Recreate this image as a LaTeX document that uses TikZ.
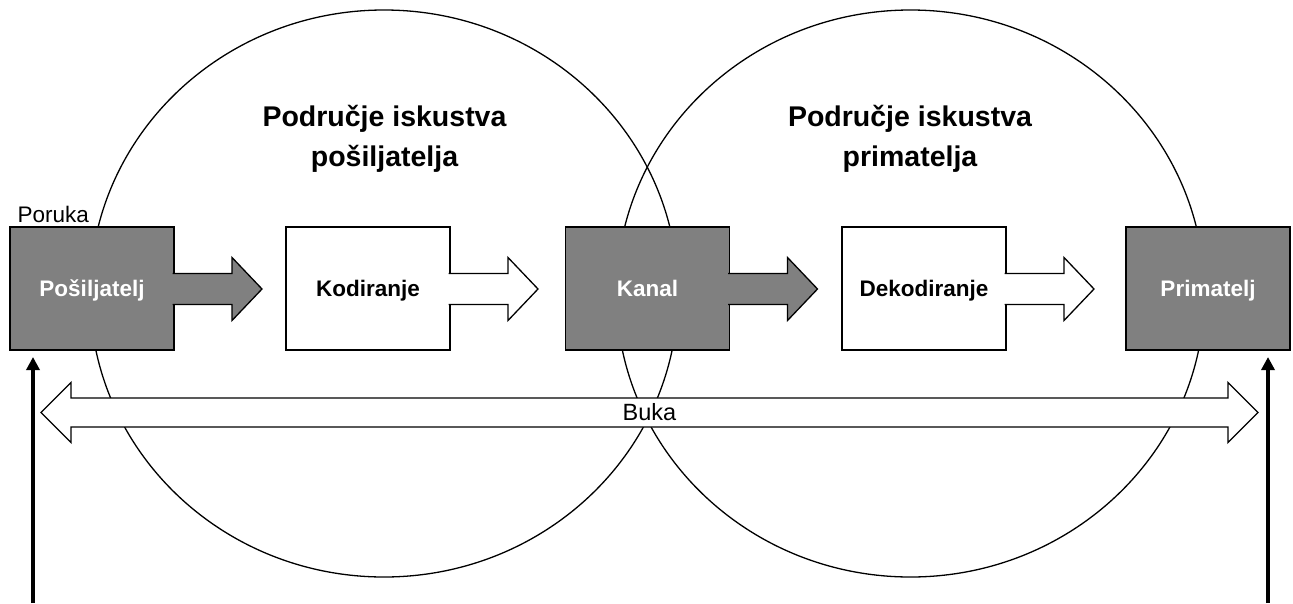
\documentclass[tikz,border=0pt]{standalone}
\usepackage{fontspec}
\setmainfont{Liberation Sans}
\usepackage{tikz}
\usetikzlibrary{arrows.meta,positioning}
\definecolor{stagegray}{HTML}{808080}

\begin{document}
\begin{tikzpicture}[x=1pt, y=-1pt,
    stage/.style={rectangle, draw=black, line width=1.3pt, outer sep=0pt, inner sep=0pt,
        minimum width=164pt, minimum height=123pt, text height=16pt, text depth=0pt,
        font=\fontsize{22.5}{27}\selectfont\bfseries},
    darkstage/.style={stage, fill=stagegray, text=white},
    lightstage/.style={stage, fill=white, text=black},
    blockarrow/.style={draw=black, line width=1.3pt},
    field/.style={draw=black, line width=1.3pt},
    fieldtitle/.style={align=center, font=\fontsize{28.5}{40}\selectfont\bfseries},
    plain/.style={font=\fontsize{22.5}{27}\selectfont},
    feed/.style={line width=4pt, -{Triangle[width=13pt,length=13pt]}, shorten >=7pt}
]
    \useasboundingbox (0,0) rectangle (1293,603);

    % Fields of experience
    \draw[field] (384,293.5) ellipse [x radius=294, y radius=283.5];
    \draw[field] (910.5,293.5) ellipse [x radius=294, y radius=283.5];

    \node[fieldtitle] (sendfield) at (384.5,139) {Područje iskustva\\pošiljatelja};
    \node[fieldtitle] (recvfield) at (910,139) {Područje iskustva\\primatelja};

    % Noise
    \coordinate (noise-l) at (41,412.5);
    \coordinate (noise-r) at (1258,412.5);
    \draw[blockarrow, fill=white] (noise-l) -- ++(30,-30) -- ++(0,15.5) -- ++(1157,0) -- ++(0,-15.5)
        -- (noise-r) -- ++(-30,30) -- ++(0,-15.5) -- ++(-1157,0) -- ++(0,15.5) -- cycle;
    \node[plain, font=\fontsize{23.5}{28}\selectfont] (noise) at (649.5,412.5) {Buka};

    % Stages
    \node[darkstage] (sender) at (92,288.5) {Pošiljatelj};
    \node[lightstage] (encode) at (368,288.5) {Kodiranje};
    \node[darkstage] (channel) at (647.5,288.5) {Kanal};
    \node[lightstage] (decode) at (924,288.5) {Dekodiranje};
    \node[darkstage] (receiver) at (1208,288.5) {Primatelj};

    \node[plain, anchor=base west] (message) at (14,222) {Poruka};

    % Block arrows leaving the stages
    \draw[blockarrow, fill=stagegray] (sender.north east) ++(-1.3,46.5) -- ++(59.3,0) -- ++(0,-16)
        -- ++(30,31.5) -- ++(-30,31.5) -- ++(0,-16) -- ++(-59.3,0);
    \draw[blockarrow, fill=white] (encode.north east) ++(-1.3,46.5) -- ++(59.3,0) -- ++(0,-16)
        -- ++(30,31.5) -- ++(-30,31.5) -- ++(0,-16) -- ++(-59.3,0);
    \draw[blockarrow, fill=stagegray] (channel.north east) ++(-1.3,46.5) -- ++(59.3,0) -- ++(0,-16)
        -- ++(30,31.5) -- ++(-30,31.5) -- ++(0,-16) -- ++(-59.3,0);
    \draw[blockarrow, fill=white] (decode.north east) ++(-1.3,46.5) -- ++(59.3,0) -- ++(0,-16)
        -- ++(30,31.5) -- ++(-30,31.5) -- ++(0,-16) -- ++(-59.3,0);

    % Inputs from below
    \coordinate (in-sender) at (33,603);
    \coordinate (in-receiver) at (1268,603);
    \draw[feed] (in-sender) -- (in-sender |- sender.south);
    \draw[feed] (in-receiver) -- (in-receiver |- receiver.south);

\end{tikzpicture}
\end{document}
